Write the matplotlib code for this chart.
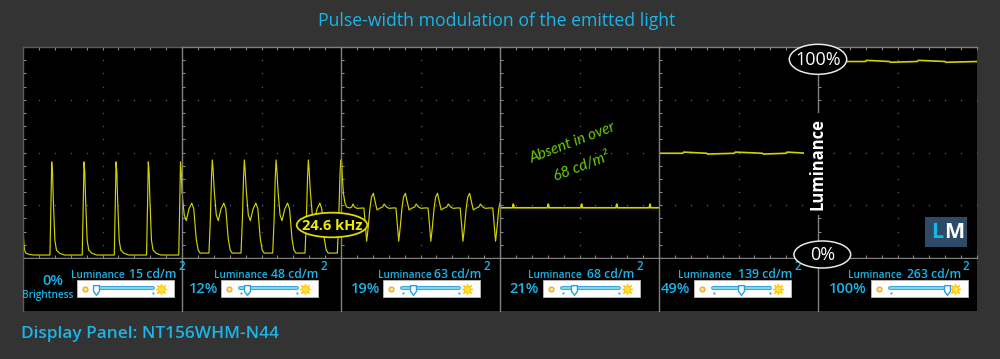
import numpy as np
import matplotlib
matplotlib.use("Agg")
import matplotlib.pyplot as plt
from matplotlib.patches import Ellipse, Rectangle

plt.rcParams['font.family'] = ['Open Sans', 'DejaVu Sans']

# ---------------- data ----------------
title = "Pulse-width modulation of the emitted light"
panel_name = "Display Panel: NT156WHM-N44"
brightness_pct = [0, 12, 19, 21, 49, 100]
luminance_cd = [15, 48, 63, 68, 139, 263]
pwm_label = "24.6 kHz"
note_lines = ["Absent in over", "68 cd/m\u00b2"]
axis_label = "Luminance"
scale_top, scale_bottom = "100%", "0%"

# waveforms: time in microseconds (200 us per panel), luminance in % of maximum
p1_t = [0, 1, 2, 3.5, 8, 14,
        33.9, 35.1, 36.1, 37.1, 38.1, 40.1, 42.1, 46.1, 52.1,
        74.5, 75.7, 76.7, 77.7, 78.7, 80.7, 82.7, 86.7, 92.7,
        114.8, 116.0, 117.0, 118.0, 119.0, 121.0, 123.0, 127.0, 133.0,
        155.4, 156.6, 157.6, 158.6, 159.6, 161.6, 163.6, 167.6, 173.6,
        195.9, 197.1, 198.1, 199.1, 200]
p1_v = [14, 7, 3, 1.5, 0.8, 0.5,
        0.5, 25, 48, 43, 29, 8, 3, 1.4, 0.5,
        0.5, 25, 48, 43, 29, 8, 3, 1.4, 0.5,
        0.5, 25, 48, 43, 29, 8, 3, 1.4, 0.5,
        0.5, 25, 48, 43, 29, 8, 3, 1.4, 0.5,
        0.5, 25, 48, 43, 32]

p2_t = [0, 2.8, 5.3, 8.8, 12.3, 14.8, 17.8, 20.3, 22.8,
        33.9, 35.6, 37.1, 38.1, 39.1, 40.6, 43.1, 45.6, 49.1, 52.6, 55.1, 58.1, 60.6, 63.1,
        74.2, 75.9, 77.4, 78.4, 79.4, 80.9, 83.4, 85.9, 89.4, 92.9, 95.4, 98.4, 100.9, 103.4,
        114.1, 115.8, 117.3, 118.3, 119.3, 120.8, 123.3, 125.8, 129.3, 132.8, 135.3, 138.3, 140.8, 143.3,
        154.7, 156.4, 157.9, 158.9, 159.9, 161.4, 163.9, 166.4, 169.9, 173.4, 175.9, 178.9, 181.4, 183.9,
        195.4, 197.1, 198.6, 199.6, 200]
p2_v = [32, 21, 18, 24, 27, 24, 9, 3, 1.5,
        1.5, 18, 40, 49, 44, 33, 21, 18, 24, 27, 24, 9, 3, 1.5,
        1.5, 18, 40, 49, 44, 33, 21, 18, 24, 27, 24, 9, 3, 1.5,
        1.5, 18, 40, 49, 44, 33, 21, 18, 24, 27, 24, 9, 3, 1.5,
        1.5, 18, 40, 49, 44, 33, 21, 18, 24, 27, 24, 9, 3, 1.5,
        1.5, 18, 40, 49, 46]

p3_t = [0, 0.8, 2, 3, 5, 7, 11, 13.5, 15, 17, 20,
        28.8, 30.8, 32.3, 34.3, 36.3, 38.3, 40.7, 42.8, 45.3, 48.3, 52.3, 54.3, 57.3, 60.3, 65.3,
        69.1, 71.1, 72.6, 74.6, 76.6, 78.6, 81.0, 83.1, 85.6, 88.6, 92.6, 94.6, 97.6, 100.6, 105.6,
        109.5, 111.5, 113.0, 115.0, 117.0, 119.0, 121.4, 123.5, 126.0, 129.0, 133.0, 135.0, 138.0, 141.0, 146.0,
        149.9, 151.9, 153.4, 155.4, 157.4, 159.4, 161.8, 163.9, 166.4, 169.4, 173.4, 175.4, 178.4, 181.4, 186.4,
        190.9, 192.9, 194.4, 196.4, 198.4, 200]
p3_v = [46, 48, 38, 32, 27, 25, 24.5, 25, 26.5, 25, 24.3,
        24.5, 15, 7.5, 15, 24, 30, 32, 28, 23.5, 24.3, 25, 26.5, 25, 24.3, 24.5,
        24.5, 15, 7.5, 15, 24, 30, 32, 28, 23.5, 24.3, 25, 26.5, 25, 24.3, 24.5,
        24.5, 15, 7.5, 15, 24, 30, 32, 28, 23.5, 24.3, 25, 26.5, 25, 24.3, 24.5,
        24.5, 15, 7.5, 15, 24, 30, 32, 28, 23.5, 24.3, 25, 26.5, 25, 24.3, 24.5,
        24.5, 15, 7.5, 15, 24, 27]

p4_t = [0, 15.8, 16.8, 17.8, 59.8, 60.8, 61.8, 101.7, 102.7, 103.7,
        145.8, 146.8, 147.8, 187.7, 188.7, 189.7, 200]
p4_v = [24.6, 24.6, 26.5, 24.6, 24.6, 26.5, 24.6, 24.6, 26.5, 24.6,
        24.6, 26.5, 24.6, 24.6, 26.5, 24.6, 24.6]

p5_t = [0, 30, 31, 60, 61, 95, 96, 130, 131, 160, 161, 186]
p5_v = [52.4, 52.4, 53.0, 52.4, 52.0, 52.4, 53.0, 52.4, 52.0, 52.4, 53.0, 52.4]

p6_t = [37, 60, 61, 90, 91, 125, 126, 160, 161, 200]
p6_v = [99.2, 99.2, 99.8, 99.2, 98.8, 99.2, 99.8, 99.2, 98.8, 99.2]

waves = [(p1_t, p1_v), (p2_t, p2_v), (p3_t, p3_v),
         (p4_t, p4_v), (p5_t, p5_v), (p6_t, p6_v)]

# ---------------- style / layout ----------------
W, H = 1000, 359
BG = '#333333'
CYAN = '#1ab4e8'
WAVE = '#d2d200'
BORDER = '#808080'
TICK = '#8a8a8a'
DOT = '#5c5c5c'
YEL = '#f2ea00'
GREEN = '#6ccc0c'

left0, top0, bot0, pw = 23, 47, 258, 159
strip_bot = 311
T_MAX = 200
Y_LO, Y_HI = -1.02, 106.6
xt = np.arange(0, T_MAX + 1, 20)
yt = np.linspace(Y_LO, Y_HI, 17)
panel_lefts = [left0 + i * pw for i in range(6)]

fig = plt.figure(figsize=(W / 100, H / 100), dpi=100)
fig.patch.set_facecolor(BG)

for i, (t, v) in enumerate(waves):
    L = panel_lefts[i]
    ax = fig.add_axes([L / W, 1 - bot0 / H, pw / W, (bot0 - top0) / H])
    ax.set_facecolor('black')
    ax.set_xlim(0, T_MAX)
    ax.set_ylim(Y_LO, Y_HI)
    ax.set_xticks(xt)
    ax.set_yticks(yt)
    ax.tick_params(direction='in', length=2.2, width=0.8, color=TICK,
                   top=True, bottom=True, left=True, right=False,
                   labelbottom=False, labelleft=False)
    for s in ['left', 'top', 'bottom']:
        ax.spines[s].set_color(BORDER)
        ax.spines[s].set_linewidth(1.0)
    if i == 0:
        ax.spines['top'].set_color('#5a5a5a')
        ax.spines['left'].set_color('#5a5a5a')
    ax.spines['right'].set_visible(False)
    ax.plot(np.full(len(yt), T_MAX / 2), yt, ls='none', marker='s', ms=0.9,
            mew=0, color=DOT)
    for k in (4, 8, 12):
        ax.plot(xt, np.full(len(xt), yt[k]), ls='none', marker='s', ms=0.9,
                mew=0, color=DOT)
    ax.plot(t, v, color=WAVE, lw=0.85 if i < 3 else 1.2, solid_joinstyle='round')

# ---------------- overlay (pixel coordinates) ----------------
ov = fig.add_axes([0, 0, 1, 1], zorder=10)
ov.set_xlim(0, W)
ov.set_ylim(H, 0)
ov.axis('off')
ov.patch.set_visible(False)

ov.text(497, 21, title, ha='center', va='center', fontsize=12.7,
        fontweight='medium', color=CYAN)
ov.text(21, 334, panel_name, ha='left', va='center', fontsize=12.4,
        fontweight='semibold', color=CYAN)

# label strip
ov.add_patch(Rectangle((left0, bot0 + 0.7), pw * 6, strip_bot - bot0 - 0.7,
                       fc='black', ec='none', zorder=0))
for L in panel_lefts:
    ov.plot([L, L], [bot0, strip_bot], color=BORDER if L > left0 else '#5a5a5a',
            lw=1.0, zorder=1)

pct_x = [53, 204, 366, 524, 675, 848]
pct_y = [281, 289, 289, 289, 289, 289]
value_left = [129, 271, 434, 587, 738, 907]
lum_right = [125, 268, 432, 582, 732, 902]
box_left = [77, 221, 383, 543, 694, 871]
box_w, box_top, box_h = 96.8, 280, 17.3

for i in range(6):
    ov.text(pct_x[i], pct_y[i], f"{brightness_pct[i]}%", ha='center', va='center',
            fontsize=10.5, fontweight='semibold', color=CYAN)
    ov.text(lum_right[i], 277.5, "Luminance", ha='right', va='baseline',
            fontsize=7.2, fontweight='semibold', color=CYAN)
    vt = ov.text(value_left[i], 277.5, f"{luminance_cd[i]} cd/m", ha='left',
                 va='baseline', fontsize=8.8, fontweight='semibold', color=CYAN)
    ov.annotate("2", xy=(1, 1), xycoords=vt, xytext=(1.2, 5.5),
                textcoords='offset points', ha='left', va='top',
                fontsize=8.5, fontweight='semibold', color=CYAN)
    bx = box_left[i]
    ov.add_patch(Rectangle((bx, box_top), box_w, box_h, fc='white',
                           ec='#bbbbbb', lw=0.6, zorder=2))
    x0, x1 = bx + 19, bx + 76
    yc = 287.5
    ov.plot([x0, x1], [yc, yc], color='#2c9fd9', lw=2.8, solid_capstyle='round', zorder=3)
    ov.plot([x0, x1], [yc, yc], color='#7fd6f5', lw=1.5, solid_capstyle='round', zorder=3)
    ov.plot([x0 + 0.5, x1 - 0.5], [293, 293], ls='none', marker='s', ms=1.4,
            mew=0, color='#2c9fd9', zorder=3)
    ov.plot(bx + 8, 288.5, 'o', ms=3.6, mfc='#ffe27a', mec='#f0a020', mew=0.8, zorder=3)
    ov.plot(bx + 84, 288.5, marker=(8, 2, 0), ms=8, color='#ffcf20', mew=1.0, zorder=3)
    ov.plot(bx + 84, 288.5, 'o', ms=4.6, mfc='#ffe24a', mec='#ffc000', mew=0.6, zorder=3)
    thumb = [(-0.55, 0.9), (0.55, 0.9), (0.55, -0.15), (0, -0.9), (-0.55, -0.15), (-0.55, 0.9)]
    tx = x0 + brightness_pct[i] / 100 * (x1 - x0)
    ov.plot(tx, 289.5, marker=thumb, ms=7, mfc='white', mec='#2c9fd9', mew=1.0, zorder=4)

ov.text(48, 295.5, "Brightness", ha='center', va='center', fontsize=7.2,
        fontweight='semibold', color=CYAN)

# annotations
ov.add_patch(Ellipse((332, 225), 70.6, 24.6, fc='black', ec='#e0d800', lw=1.3, zorder=5))
ov.text(332, 225.5, pwm_label, ha='center', va='center', fontsize=10.5,
        fontweight='bold', color=YEL, zorder=6)

ov.text(573, 143, note_lines[0], ha='center', va='center', rotation=21,
        rotation_mode='anchor', fontsize=11, style='italic', color=GREEN,
        family=['Lato', 'DejaVu Sans'])
ov.text(582, 167, note_lines[1], ha='center', va='center', rotation=21,
        rotation_mode='anchor', fontsize=11, style='italic', color=GREEN,
        family=['Lato', 'DejaVu Sans'])

ov.text(818, 164, axis_label, rotation=90, ha='center', va='center', color='white',
        fontsize=12, fontweight='bold', zorder=6,
        bbox=dict(boxstyle='square,pad=0.3', fc='black', ec='none'))
ov.add_patch(Ellipse((818, 59.3), 57.4, 30, fc='black', ec='#e8e8e8', lw=1.1, zorder=5))
ov.text(818, 60, scale_top, ha='center', va='center', fontsize=13, color='white', zorder=6)
ov.add_patch(Ellipse((822.3, 254.5), 56.7, 27, fc='black', ec='#e8e8e8', lw=1.1, zorder=5))
ov.text(822.3, 255, scale_bottom, ha='center', va='center', fontsize=13, color='white', zorder=6)

# LM logo
ov.add_patch(Rectangle((925, 217), 42, 30, fc='#2d4a67', ec='none', zorder=5))
ov.text(943.5, 232.5, "L", ha='right', va='center', fontsize=15.5, fontweight='bold',
        color='#19b4ec', zorder=6)
ov.text(944.5, 232.5, "M", ha='left', va='center', fontsize=15.5, fontweight='bold',
        color='white', zorder=6)

fig.savefig('out.png', dpi=100, facecolor=BG)
